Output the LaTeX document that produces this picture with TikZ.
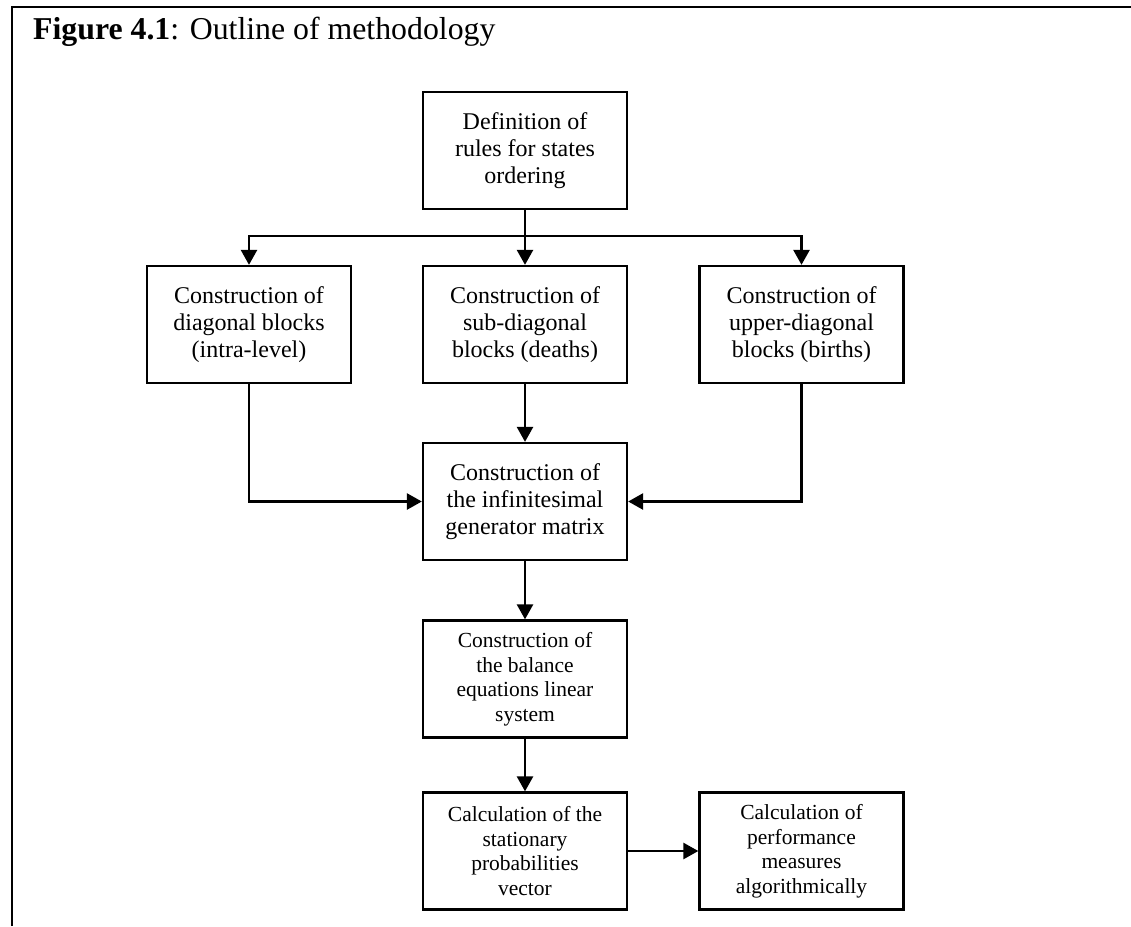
\documentclass[tikz,border=0pt]{standalone}
\usepackage{fontspec}
\setmainfont{Liberation Serif}
\usetikzlibrary{arrows.meta}
\begin{document}
\begin{tikzpicture}[x=1pt,y=-1pt,
  box/.style={draw,line width=2.3pt,minimum width=204pt,minimum height=117pt,inner sep=0pt,align=center},
  bigtxt/.style={font=\fontsize{24}{27}\selectfont},
  smalltxt/.style={font=\fontsize{21.5}{24.5}\selectfont},
  arr/.style={line width=2.6pt,-{Triangle[length=15pt,width=16pt]}},
  frame/.style={line width=2.3pt}]
\useasboundingbox (0,0) rectangle (1131,926);
% frame
\coordinate (fl) at (12,926);
\coordinate (fc) at (12,7);
\coordinate (fr) at (1131,7);
\draw[frame] (fl) -- (fc) -- (fr);
\node[anchor=base west,inner sep=0pt,font=\fontsize{31.8}{36}\selectfont] (title) at (33,39) {\textbf{Figure 4.1}: Outline of methodology};
% nodes
\node[box,bigtxt] (def) at (525,150.5) {Definition of\\rules for states\\ordering};
\node[box,bigtxt] (diag) at (249,324.5) {Construction of\\diagonal blocks\\(intra-level)};
\node[box,bigtxt] (sub) at (525,324.5) {Construction of\\sub-diagonal\\blocks (deaths)};
\node[box,bigtxt] (upp) at (801.5,324.5) {Construction of\\upper-diagonal\\blocks (births)};
\node[box,bigtxt] (gen) at (525,501.5) {Construction of\\the infinitesimal\\generator matrix};
\node[box,smalltxt] (bal) at (525,679) {Construction of\\the balance\\equations linear\\system};
\node[box,smalltxt] (calc) at (525,851) {Calculation of the\\stationary\\probabilities\\vector};
\node[box,smalltxt] (perf) at (801.5,851) {Calculation of\\performance\\measures\\algorithmically};
% connectors
\coordinate (j) at (525,236);
\draw[arr] (def.south) -- (sub.north);
\draw[arr] (j) -| (diag.north);
\draw[arr] (j) -| (upp.north);
\draw[arr] (diag.south) |- (gen.west);
\draw[arr] (upp.south) |- (gen.east);
\draw[arr] (sub.south) -- (gen.north);
\draw[arr] (gen.south) -- (bal.north);
\draw[arr] (bal.south) -- (calc.north);
\draw[arr] (calc.east) -- (perf.west);
\end{tikzpicture}
\end{document}
